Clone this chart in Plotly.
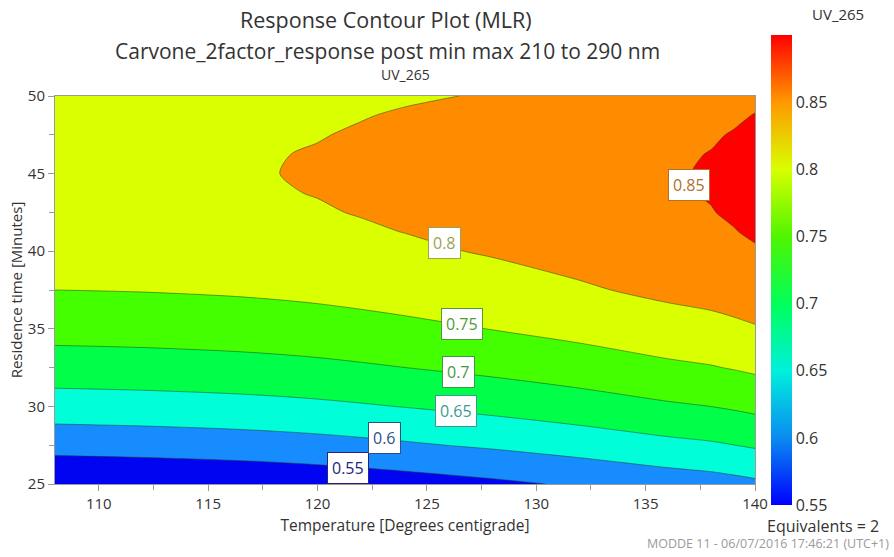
import plotly.graph_objects as go

# Factors (grid of the response surface)
temperature = [108, 112, 116, 118, 120, 122, 124, 128, 132, 136, 138, 139, 140]
residence_time = [25, 27.5, 30, 32.5, 35, 37.5, 40, 41.25, 42.5, 43.75, 45, 46.25, 47.5, 48.75, 50]

# UV_265 response, one row per residence time, one column per temperature
uv_265 = [
    [0.5006, 0.5041, 0.5091, 0.5126, 0.5169, 0.5223, 0.5282, 0.5410, 0.5558, 0.5726, 0.5795, 0.5848, 0.5908],
    [0.5680, 0.5711, 0.5758, 0.5791, 0.5832, 0.5884, 0.5942, 0.6066, 0.6211, 0.6375, 0.6442, 0.6494, 0.6554],
    [0.6266, 0.6294, 0.6337, 0.6368, 0.6408, 0.6458, 0.6514, 0.6635, 0.6776, 0.6937, 0.7002, 0.7053, 0.7112],
    [0.6765, 0.6789, 0.6829, 0.6858, 0.6896, 0.6945, 0.6999, 0.7116, 0.7254, 0.7411, 0.7475, 0.7525, 0.7583],
    [0.7176, 0.7197, 0.7233, 0.7261, 0.7297, 0.7344, 0.7396, 0.7510, 0.7644, 0.7798, 0.7860, 0.7909, 0.7966],
    [0.7500, 0.7517, 0.7550, 0.7576, 0.7610, 0.7655, 0.7706, 0.7816, 0.7947, 0.8097, 0.8157, 0.8205, 0.8262],
    [0.7736, 0.7750, 0.7779, 0.7803, 0.7836, 0.7879, 0.7928, 0.8035, 0.8162, 0.8309, 0.8367, 0.8414, 0.8470],
    [0.7822, 0.7833, 0.7861, 0.7884, 0.7916, 0.7959, 0.8006, 0.8112, 0.8237, 0.8382, 0.8439, 0.8486, 0.8542],
    [0.7885, 0.7895, 0.7921, 0.7943, 0.7974, 0.8016, 0.8063, 0.8166, 0.8290, 0.8433, 0.8490, 0.8536, 0.8591],
    [0.7927, 0.7935, 0.7959, 0.7980, 0.8010, 0.8051, 0.8097, 0.8199, 0.8321, 0.8462, 0.8518, 0.8563, 0.8619],
    [0.7946, 0.7953, 0.7975, 0.7996, 0.8025, 0.8065, 0.8110, 0.8210, 0.8330, 0.8470, 0.8525, 0.8570, 0.8624],
    [0.7944, 0.7949, 0.7970, 0.7989, 0.8017, 0.8057, 0.8101, 0.8199, 0.8317, 0.8455, 0.8509, 0.8554, 0.8608],
    [0.7920, 0.7923, 0.7942, 0.7961, 0.7988, 0.8026, 0.8070, 0.8166, 0.8283, 0.8419, 0.8472, 0.8516, 0.8570],
    [0.7874, 0.7875, 0.7893, 0.7910, 0.7937, 0.7988, 0.8025, 0.8112, 0.8226, 0.8361, 0.8413, 0.8456, 0.8510],
    [0.7806, 0.7806, 0.7821, 0.7838, 0.7864, 0.7945, 0.7968, 0.8020, 0.8148, 0.8281, 0.8332, 0.8375, 0.8428],
]

contour_levels = [0.55, 0.60, 0.65, 0.70, 0.75, 0.80, 0.85]
level_labels = ["0.55", "0.6", "0.65", "0.7", "0.75", "0.8", "0.85"]
label_temperature = [121.4, 123.05, 126.35, 126.45, 126.6, 125.8, 137.0]
label_time = [26.05, 27.95, 29.7, 32.2, 35.3, 40.5, 44.25]
label_colors = ["#24247a", "#2d4f86", "#3c9a92", "#3f9a48", "#4f9c34", "#9ca252", "#b0722e"]

band_colors = ["#0004f0", "#168cff", "#00ffd9", "#00ff48", "#44ff00", "#d9ff00", "#ff8c00", "#ff0000"]
colorbar_scale = [
    [0.0, "#0000ff"], [1 / 7, "#0a8cf0"], [2 / 7, "#00f0dc"], [3 / 7, "#00ff5a"],
    [4 / 7, "#50f500"], [5 / 7, "#d8ff00"], [6 / 7, "#ff9800"], [1.0, "#ff0000"],
]
colorbar_range = [0.55, 0.90]

FONT = "Open Sans"
TXT = "#333333"

# plot-area geometry in pixels
W, H = 894, 557
L, R, T, B = 55, 755, 95.5, 484.5
PW, PH = R - L, B - T

n = len(band_colors) - 1
band_scale = [[i / n, c] for i, c in enumerate(band_colors)]

fig = go.Figure()

# continuous colour bar (hidden under the filled contour)
fig.add_trace(go.Heatmap(
    x=temperature, y=residence_time, z=uv_265,
    zmin=colorbar_range[0], zmax=colorbar_range[1],
    colorscale=colorbar_scale, hoverinfo="skip",
    colorbar=dict(
        x=(771 - L) / PW, xanchor="left", xpad=0, thickness=21,
        len=470, lenmode="pixels", y=(B - 270) / PH, yanchor="middle", ypad=0,
        tickvals=contour_levels, ticktext=level_labels, ticks="", ticklen=0,
        outlinewidth=0, tickfont=dict(family=FONT, size=16, color=TXT),
    ),
))

fig.add_trace(go.Contour(
    x=temperature, y=residence_time, z=uv_265,
    autocontour=False,
    contours=dict(start=contour_levels[0], end=contour_levels[-1],
                  size=0.05, coloring="fill", showlines=True),
    colorscale=band_scale, showscale=False,
    line=dict(color="rgba(30,60,30,0.5)", width=1, smoothing=0.8),
    hoverinfo="skip",
))

annotations = []
for txt, tx, ty, col in zip(level_labels, label_temperature, label_time, label_colors):
    annotations.append(dict(
        x=tx, y=ty, xref="x", yref="y", text=txt, showarrow=False,
        bgcolor="white", bordercolor=col, borderwidth=1, borderpad=4,
        font=dict(family=FONT, size=16, color=col),
    ))


def px_ann(text, xp, yp, size, color=TXT, xanchor="center"):
    return dict(text=text, x=(xp - L) / PW, y=(B - yp) / PH,
                xref="paper", yref="paper", showarrow=False,
                xanchor=xanchor, yanchor="middle",
                font=dict(family=FONT, size=size, color=color))


annotations += [
    px_ann("Response Contour Plot (MLR)", 386, 19, 21.5),
    px_ann("Carvone_2factor_response post min max 210 to 290 nm", 387, 50, 21),
    px_ann("UV_265", 405, 74, 14),
    px_ann("UV_265", 838, 13, 15),
    px_ann("Equivalents = 2", 881, 527, 16, xanchor="right"),
    px_ann("MODDE 11 - 06/07/2016 17:46:21 (UTC+1)", 891, 544, 12.5, color="#9a9a9a", xanchor="right"),
]

axis_common = dict(
    showgrid=False, zeroline=False, showline=True, linecolor="#9a9a9a", linewidth=1,
    mirror=True, ticks="outside", ticklen=6, tickcolor="#9a9a9a",
    tickfont=dict(family=FONT, size=15, color=TXT),
    minor=dict(ticks="outside", ticklen=5, tickcolor="#9a9a9a", dtick=2.5),
)

fig.update_layout(
    width=W, height=H,
    margin=dict(l=L, r=W - R, t=T, b=H - B, autoexpand=False),
    paper_bgcolor="white", plot_bgcolor="white",
    font=dict(family=FONT, color=TXT),
    annotations=annotations,
    xaxis=dict(range=[108, 140], dtick=5, tick0=110, **axis_common,
               title=dict(text="Temperature [Degrees centigrade]",
                          font=dict(family=FONT, size=15.5, color=TXT), standoff=8)),
    yaxis=dict(range=[25, 50], dtick=5, tick0=25, **axis_common,
               title=dict(text="Residence time [Minutes]",
                          font=dict(family=FONT, size=15, color=TXT), standoff=1)),
)

fig.write_html("out.html", config={"displayModeBar": False},
               post_script="document.body.style.margin='0';")
